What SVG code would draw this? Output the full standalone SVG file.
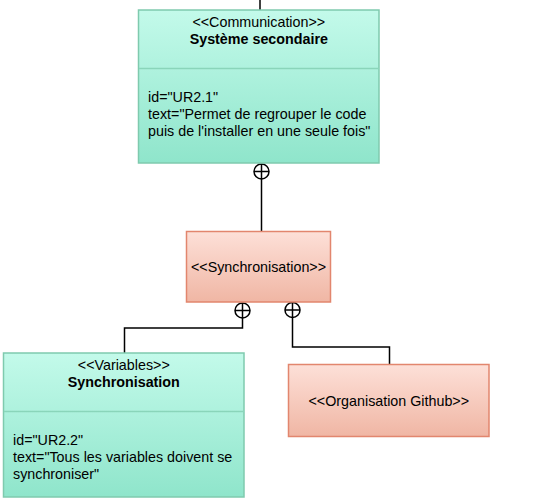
<svg xmlns="http://www.w3.org/2000/svg" width="534" height="504" viewBox="0 0 534 504">
<defs>
<linearGradient id="gTeal" x1="0" y1="0" x2="0" y2="1"><stop offset="0" stop-color="#c3faea"/><stop offset="1" stop-color="#8fe5cb"/></linearGradient>
<linearGradient id="gSalmon" x1="0" y1="0" x2="0" y2="1"><stop offset="0" stop-color="#fde0d8"/><stop offset="1" stop-color="#f0b6a4"/></linearGradient>
</defs>
<style>
text{font-family:"Liberation Sans",Arial,sans-serif;font-size:14.3px;fill:#000}
.c{text-anchor:middle}
.b{font-weight:bold}
.teal{fill:url(#gTeal);stroke:#7fcaae;stroke-width:1.5}
.sal{fill:url(#gSalmon);stroke:#e2866e;stroke-width:1.5}
.div{stroke:#8ad5ba;stroke-width:1.5}
.conn{fill:none;stroke:#000;stroke-width:1.5}
.circ{fill:#fff;stroke:#000;stroke-width:1.5}
</style>
<g id="connectors">
<line class="conn" x1="260" y1="0" x2="260" y2="10"/>
<line class="conn" x1="261.5" y1="179" x2="261.5" y2="231"/>
<circle class="circ" cx="261.5" cy="171.5" r="7.5"/>
<line class="conn" x1="254" y1="171.5" x2="269" y2="171.5"/>
<line class="conn" x1="261.5" y1="164" x2="261.5" y2="179"/>
<polyline class="conn" points="242.5,318 242.5,328 124.5,328 124.5,353"/>
<circle class="circ" cx="242.5" cy="310.5" r="7.5"/>
<line class="conn" x1="235" y1="310.5" x2="250" y2="310.5"/>
<line class="conn" x1="242.5" y1="303" x2="242.5" y2="318"/>
<polyline class="conn" points="292.5,317.5 292.5,347 389.5,347 389.5,364"/>
<circle class="circ" cx="292.5" cy="310" r="7.5"/>
<line class="conn" x1="285" y1="310" x2="300" y2="310"/>
<line class="conn" x1="292.5" y1="302.5" x2="292.5" y2="317.5"/>
</g>
<g id="systeme-secondaire">
<rect class="teal" x="138.5" y="10" width="240.5" height="153"/>
<line class="div" x1="139" y1="68.5" x2="378.5" y2="68.5"/>
<text class="c" x="258.8" y="27">&lt;&lt;Communication&gt;&gt;</text>
<text class="c b" x="258.8" y="44">Système secondaire</text>
<text x="148" y="102">id="UR2.1"</text>
<text x="148" y="119">text="Permet de regrouper le code</text>
<text x="148" y="136">puis de l'installer en une seule fois"</text>
</g>
<g id="synchronisation">
<rect class="sal" x="186.5" y="231.5" width="144" height="70.5"/>
<text class="c" x="258.5" y="272">&lt;&lt;Synchronisation&gt;&gt;</text>
</g>
<g id="variables">
<rect class="teal" x="3.5" y="353" width="240.5" height="144"/>
<line class="div" x1="4" y1="411.5" x2="243.5" y2="411.5"/>
<text class="c" x="123.8" y="370">&lt;&lt;Variables&gt;&gt;</text>
<text class="c b" x="123.8" y="387">Synchronisation</text>
<text x="13" y="445">id="UR2.2"</text>
<text x="13" y="462">text="Tous les variables doivent se</text>
<text x="13" y="479">synchroniser"</text>
</g>
<g id="organisation-github">
<rect class="sal" x="288.5" y="364.5" width="200.5" height="72"/>
<text class="c" x="388.8" y="405.5">&lt;&lt;Organisation Github&gt;&gt;</text>
</g>
</svg>
